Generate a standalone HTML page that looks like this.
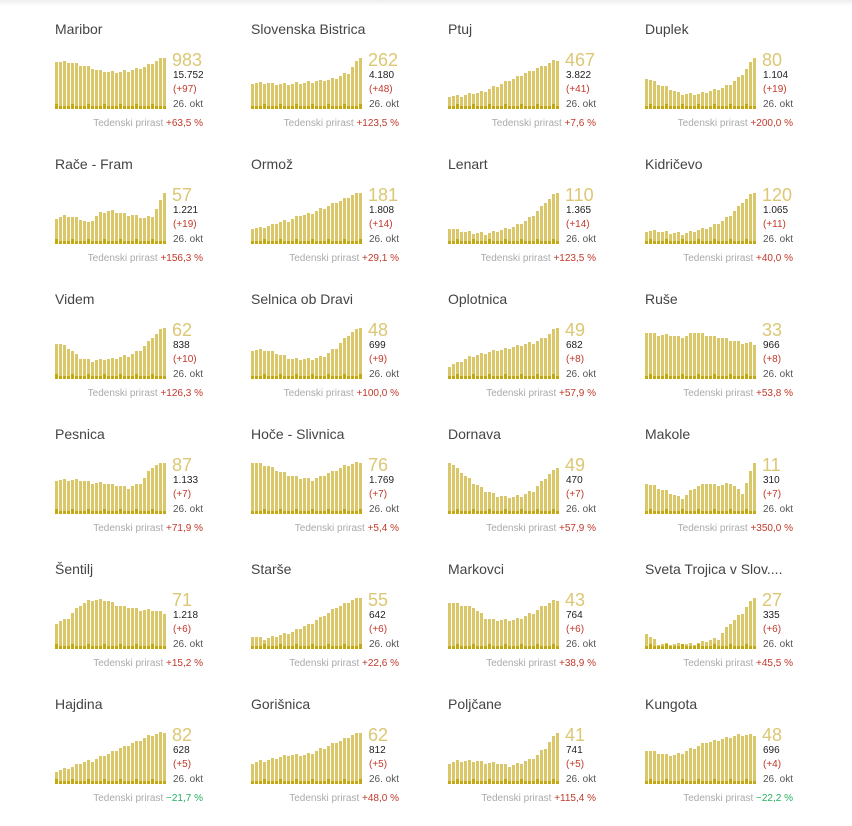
<!DOCTYPE html><html><head><meta charset="utf-8"><style>
body{margin:0;width:852px;height:820px;background:#fff;font-family:"Liberation Sans",sans-serif;position:relative;overflow:hidden}
.top{position:absolute;left:0;top:0;width:852px;height:6px;background:linear-gradient(#eee,#fff)}
.p{position:absolute;width:190px;height:130px}
.t{position:absolute;left:0;top:0;font-size:14px;color:#444;white-space:nowrap}
.c{position:absolute;left:0;top:35px;width:112px;height:53px}
.b{position:absolute;bottom:0;width:3px;background:#d9c76a}
.d{position:absolute;bottom:0;width:3px;background:#c4a811}
.n{position:absolute;left:117px;top:29px;font-size:18px;color:#dcc775}
.v{position:absolute;left:118px;font-size:10px;color:#222}
.r{position:absolute;right:42px;top:97px;font-size:10px;color:#aaa;white-space:nowrap}
.r b{font-weight:normal;color:#c0392b}
.r b.g{color:#27ae60}
</style></head><body><div class="top"></div><div id="w"></div>
<script>
const D=[
["Maribor",983,"15.752",97,"+63,5 %",[.92,.9,.85,.8,.74,.7,.72,.75,.8,.9,1]],
["Slovenska Bistrica",262,"4.180",48,"+123,5 %",[.5,.5,.48,.48,.5,.52,.55,.6,.7,1]],
["Ptuj",467,"3.822",41,"+7,6 %",[.25,.25,.3,.35,.45,.55,.65,.75,.85,.95]],
["Duplek",80,"1.104",19,"+200,0 %",[.6,.5,.4,.3,.28,.3,.35,.4,.5,.7,1]],
["Rače - Fram",57,"1.221",19,"+156,3 %",[.5,.55,.5,.4,.6,.65,.6,.55,.5,.55,1]],
["Ormož",181,"1.808",14,"+29,1 %",[.3,.32,.4,.45,.55,.6,.7,.8,.9,1]],
["Lenart",110,"1.365",14,"+123,5 %",[.3,.25,.22,.2,.25,.3,.4,.55,.8,1]],
["Kidričevo",120,"1.065",11,"+40,0 %",[.25,.25,.22,.2,.25,.3,.4,.55,.8,1]],
["Videm",62,"838",10,"+126,3 %",[.7,.6,.4,.35,.38,.4,.45,.55,.8,1]],
["Selnica ob Dravi",48,"699",9,"+100,0 %",[.55,.55,.5,.4,.38,.38,.45,.6,.85,1]],
["Oplotnica",49,"682",8,"+57,9 %",[.25,.35,.45,.5,.55,.6,.65,.7,.8,1]],
["Ruše",33,"966",8,"+53,8 %",[.9,.85,.85,.8,.9,.85,.8,.75,.7,.68]],
["Pesnica",87,"1.133",7,"+71,9 %",[.65,.65,.65,.6,.6,.55,.5,.6,.9,1]],
["Hoče - Slivnica",76,"1.769",7,"+5,4 %",[1,.95,.85,.75,.7,.65,.75,.85,.95,1]],
["Dornava",49,"470",7,"+57,9 %",[1,.8,.6,.45,.35,.32,.35,.45,.7,.9]],
["Makole",11,"310",7,"+350,0 %",[.6,.5,.4,.3,.5,.6,.55,.6,.4,1]],
["Šentilj",71,"1.218",6,"+15,2 %",[.5,.6,.85,.95,.95,.85,.8,.75,.75,.7]],
["Starše",55,"642",6,"+22,6 %",[.25,.2,.25,.3,.4,.5,.65,.8,.9,1]],
["Markovci",43,"764",6,"+38,9 %",[.9,.85,.8,.6,.55,.55,.6,.7,.85,.95]],
["Sveta Trojica v Slov....",27,"335",6,"+45,5 %",[.3,.1,.1,.1,.1,.15,.2,.5,.7,1]],
["Hajdina",82,"628",5,"-21,7 %",[.25,.3,.4,.45,.55,.65,.75,.85,.95,1]],
["Gorišnica",62,"812",5,"+48,0 %",[.4,.45,.5,.55,.55,.6,.7,.8,.9,1]],
["Poljčane",41,"741",5,"+115,4 %",[.4,.45,.45,.4,.4,.35,.4,.5,.7,1]],
["Kungota",48,"696",4,"-22,2 %",[.65,.6,.55,.6,.7,.8,.85,.9,.95,.95]]];
let h="";const X=[55,251,448,645];
D.forEach((d,i)=>{const x=X[i%4],y=21+Math.floor(i/4)*135;let bars="";const k=d[5];
for(let j=0;j<28;j++){const t=j/27*(k.length-1),a=Math.floor(t),f=t-a,v=k[a]+((k[a+1]??k[a])-k[a])*f;
const ht=Math.max(3,Math.round(v*52+((j*7)%3-1)));const dh=3+((j*5+i)%4==0?2:0);
bars+=`<div class="b" style="left:${j*4}px;height:${ht}px"></div><div class="d" style="left:${j*4}px;height:${dh}px"></div>`;}
const neg=d[4][0]=="-";
h+=`<div class="p" style="left:${x}px;top:${y}px"><div class="t">${d[0]}</div><div class="c">${bars}</div>
<div class="n">${d[1]}</div><div class="v" style="top:49px">${d[2]}</div><div class="v" style="top:63px;color:#c0392b">(+${d[3]})</div><div class="v" style="top:78px;color:#555">26. okt</div>
<div class="r">Tedenski prirast <b class="${neg?'g':''}">${neg?'−'+d[4].slice(1):d[4]}</b></div></div>`;});
document.getElementById("w").innerHTML=h;
</script></body></html>
